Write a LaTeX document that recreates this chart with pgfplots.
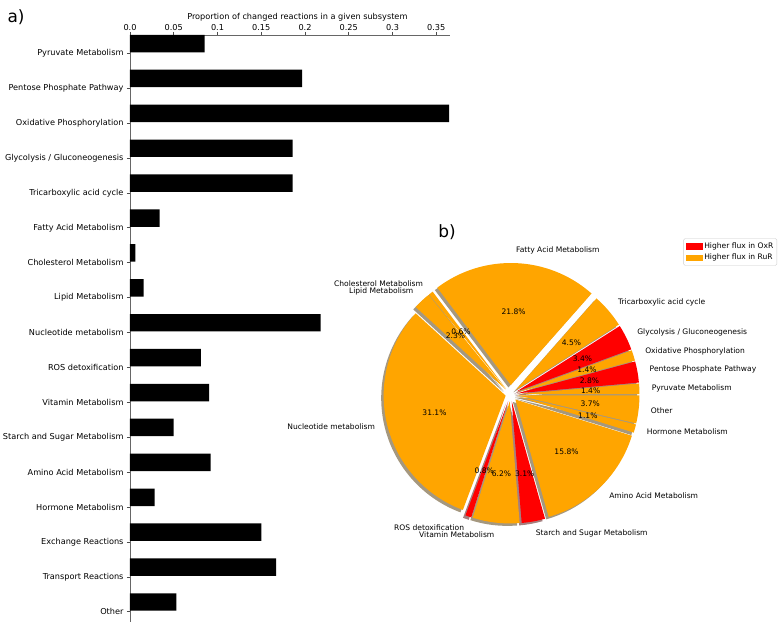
\documentclass[border=0pt]{standalone}
\usepackage{fontspec}
\setmainfont{DejaVu Sans}
\usepackage{pgfplots}
\pgfplotsset{compat=1.18}
\usetikzlibrary{calc}
\definecolor{orng}{HTML}{FFA500}

% pie slices: percent / colour / explode (bp) / label
\def\piedata{1.4/orng/7/Pyruvate Metabolism,
  2.8/red/7/Pentose Phosphate Pathway,
  1.4/orng/7/Oxidative Phosphorylation,
  3.4/red/7/{Glycolysis / Gluconeogenesis},
  4.5/orng/7/Tricarboxylic acid cycle,
  21.8/orng/9.5/Fatty Acid Metabolism,
  0.6/orng/7/Cholesterol Metabolism,
  2.3/orng/7/Lipid Metabolism,
  31.1/orng/5/Nucleotide metabolism,
  0.8/red/7/ROS detoxification,
  6.2/orng/7/Vitamin Metabolism,
  3.1/red/7/Starch and Sugar Metabolism,
  15.8/orng/7/Amino Acid Metabolism,
  1.1/orng/7/Hormone Metabolism,
  3.7/orng/7/Other}
\def\R{122}

\begin{document}
\begin{tikzpicture}

%% a) bar chart; b) pie drawn in the same axis, placed by offsets from its corner
\begin{axis}[
    width=320bp, height=586.7bp, scale only axis, clip=false,
    xbar, bar width=0.5,
    xmin=0, xmax=0.3657, ymin=-0.286, ymax=16.523,
    axis x line*=top, axis y line*=left,
    xtick={0,0.05,0.1,0.15,0.2,0.25,0.3,0.35},
    xticklabels={0.0,0.05,0.1,0.15,0.2,0.25,0.3,0.35},
    ytick={0,...,16},
    yticklabels={Other,Transport Reactions,Exchange Reactions,Hormone Metabolism,
      Amino Acid Metabolism,Starch and Sugar Metabolism,Vitamin Metabolism,
      ROS detoxification,Nucleotide metabolism,Lipid Metabolism,
      Cholesterol Metabolism,Fatty Acid Metabolism,Tricarboxylic acid cycle,
      Glycolysis / Gluconeogenesis,Oxidative Phosphorylation,
      Pentose Phosphate Pathway,Pyruvate Metabolism},
    tick align=outside, major tick length=3bp,
    tick style={black!70, line width=0.6bp},
    axis line style={black!60, line width=0.6bp},
    ticklabel style={font=\fontsize{8.2}{9}\selectfont},
    xticklabel style={yshift=-2bp},
    /pgf/number format/assume math mode=true,
    xlabel={Proportion of changed reactions in a given subsystem},
    xlabel style={font=\fontsize{8.2}{9}\selectfont,
      at={(axis description cs:0.523,1)}, anchor=center, yshift=18bp},
    legend cell align=left,
    legend style={at={(axis description cs:2.0219,0.6535)}, anchor=north east,
      draw=black!20, rounded corners=1.5bp, fill=white,
      font=\fontsize{7.6}{9}\selectfont,
      inner xsep=2bp, inner ysep=2.5bp, nodes={inner sep=1.5bp}, row sep=1.5bp},
  ]
  \addplot[fill=black, draw=none, forget plot] coordinates {
    (0.0854,16) (0.1966,15) (0.3646,14) (0.1859,13) (0.1859,12)
    (0.0339,11) (0.0061,10) (0.0157,9) (0.2179,8) (0.0811,7)
    (0.0903,6) (0.0499,5) (0.0922,4) (0.0282,3) (0.1501,2)
    (0.1669,1) (0.0529,0)
  };
  \addlegendimage{legend image code/.code={\fill[red, sharp corners] (0bp,-2.65bp) rectangle (16.7bp,2.65bp);}}
  \addlegendentry{Higher flux in OxR}
  \addlegendimage{legend image code/.code={\fill[orng, sharp corners] (0bp,-2.65bp) rectangle (16.7bp,2.65bp);}}
  \addlegendentry{Higher flux in RuR}

  \coordinate (O) at (axis description cs:0,0);
  \coordinate (C) at ($(O)+(380.5bp,227.2bp)$);
  \pgfplotsextra{
    % shadows
    \xdef\cum{0}
    \foreach \p/\c/\e/\l in \piedata {
      \pgfmathsetmacro\aa{\cum*3.6}
      \pgfmathsetmacro\bb{(\cum+\p)*3.6}
      \pgfmathsetmacro\mm{(\aa+\bb)/2}
      \pgfmathsetmacro\ex{\e*cos(\mm)-2.44}
      \pgfmathsetmacro\ey{\e*sin(\mm)-2.44}
      \fill[\c!30!black, opacity=0.5] ($(C)+(\ex bp,\ey bp)$) -- +(\aa:\R bp)
        arc[start angle=\aa, end angle=\bb, radius=\R bp] -- cycle;
      \pgfmathsetmacro\nc{\cum+\p}\xdef\cum{\nc}
    }
    % wedges
    \xdef\cum{0}
    \foreach \p/\c/\e/\l in \piedata {
      \pgfmathsetmacro\aa{\cum*3.6}
      \pgfmathsetmacro\bb{(\cum+\p)*3.6}
      \pgfmathsetmacro\mm{(\aa+\bb)/2}
      \pgfmathsetmacro\ex{\e*cos(\mm)}
      \pgfmathsetmacro\ey{\e*sin(\mm)}
      \fill[\c] ($(C)+(\ex bp,\ey bp)$) -- +(\aa:\R bp)
        arc[start angle=\aa, end angle=\bb, radius=\R bp] -- cycle;
      \pgfmathsetmacro\nc{\cum+\p}\xdef\cum{\nc}
    }
    % labels
    \xdef\cum{0}
    \foreach \p/\c/\e/\l in \piedata {
      \pgfmathsetmacro\aa{\cum*3.6}
      \pgfmathsetmacro\bb{(\cum+\p)*3.6}
      \pgfmathsetmacro\mm{(\aa+\bb)/2}
      \pgfmathsetmacro\cs{cos(\mm)}
      \pgfmathsetmacro\lx{(\e+1.1*\R)*cos(\mm)}
      \pgfmathsetmacro\ly{(\e+1.1*\R)*sin(\mm)}
      \pgfmathsetmacro\px{(\e+0.6*\R)*cos(\mm)}
      \pgfmathsetmacro\py{(\e+0.6*\R)*sin(\mm)}
      \ifdim\cs pt>0pt \def\anc{west}\else\def\anc{east}\fi
      \node[anchor=\anc, inner sep=0pt, font=\fontsize{7.6}{9}\selectfont]
        at ($(C)+(\lx bp,\ly bp)$) {\l};
      \node[inner sep=0pt, font=\fontsize{7.6}{9}\selectfont]
        at ($(C)+(\px bp,\py bp)$) {\p\%};
      \pgfmathsetmacro\nc{\cum+\p}\xdef\cum{\nc}
    }
  }
\end{axis}

\node[font=\fontsize{17}{20}\selectfont] at ($(O)+(-114bp,604.7bp)$) {a)};
\node[font=\fontsize{17}{20}\selectfont] at ($(O)+(317bp,389.7bp)$) {b)};

\pgfresetboundingbox
\path[use as bounding box] ($(O)+(-130bp,-10.3bp)$) rectangle ($(O)+(654bp,621.7bp)$);
\end{tikzpicture}
\end{document}
